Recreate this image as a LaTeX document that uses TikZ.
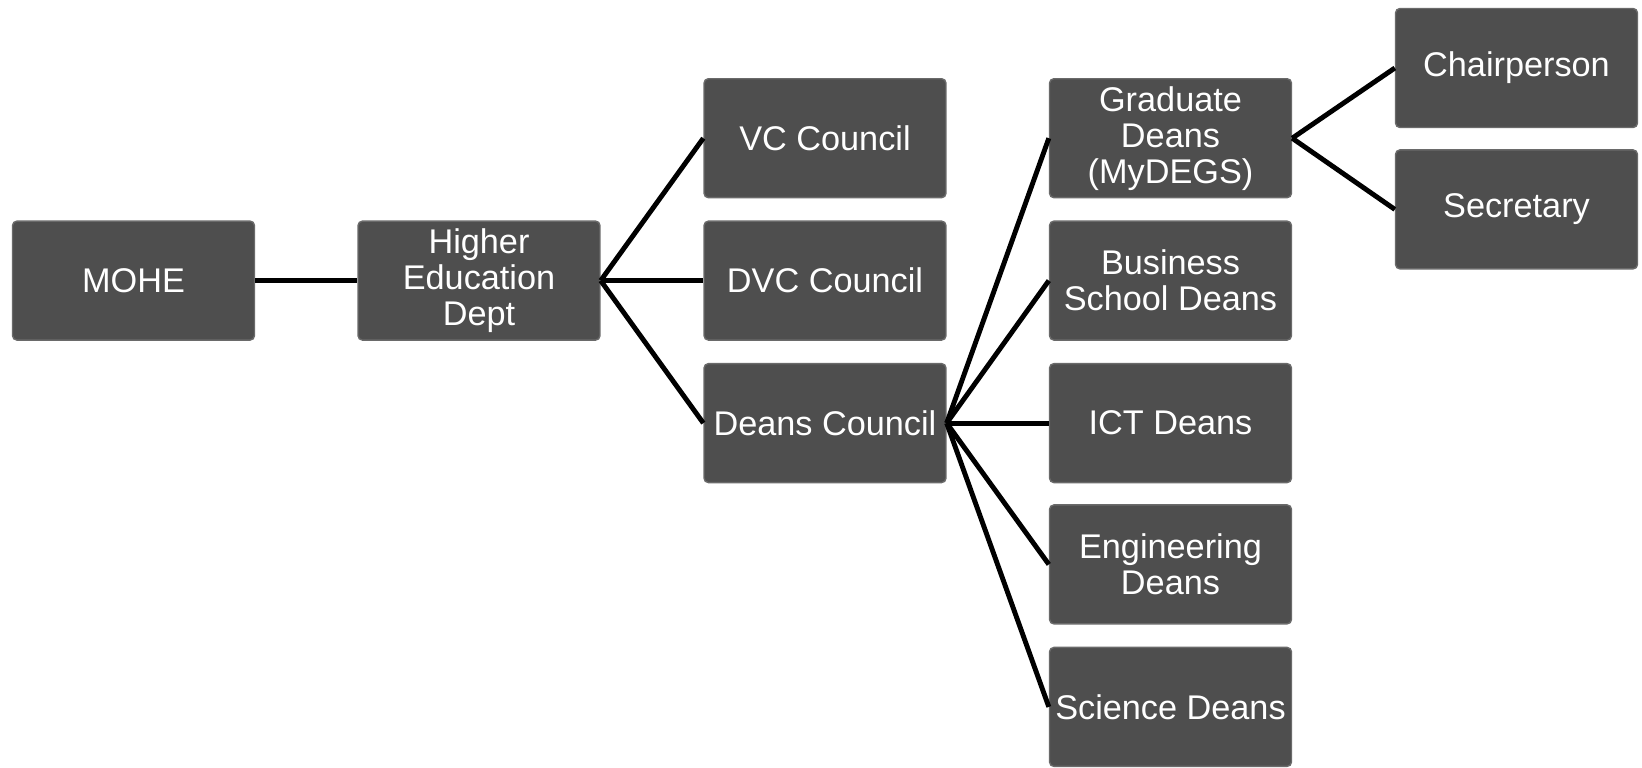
\documentclass[tikz,border=0pt]{standalone}
\usepackage{fontspec}
\setmainfont{Liberation Sans}
\definecolor{boxfill}{HTML}{4E4E4E}
\definecolor{boxedge}{HTML}{6A6A6A}
\begin{document}
\begin{tikzpicture}[x=0.02cm,y=-0.02cm,
  orgbox/.style={draw=boxedge,line width=0.8pt,fill=boxfill,rounded corners=2.5pt,
    minimum width=4.84cm,minimum height=2.38cm,inner sep=0pt,align=center,
    text=white,font=\fontsize{19.5}{20.5}\selectfont},
  link/.style={line width=2.8pt,black}]
\useasboundingbox (0,0) rectangle (1642,767);
\node[orgbox] (mohe) at (133.5,280.6) {MOHE};
\node[orgbox] (hed) at (479,280.6) {Higher\\Education\\Dept};
\node[orgbox] (vc) at (825,138.2) {VC Council};
\node[orgbox] (dvc) at (825,280.6) {DVC Council};
\node[orgbox] (deans) at (825,423.1) {Deans Council};
\node[orgbox] (grad) at (1170.5,138.2) {Graduate\\Deans\\(MyDEGS)};
\node[orgbox] (bus) at (1170.5,280.6) {Business\\School Deans};
\node[orgbox] (ict) at (1170.5,423.1) {ICT Deans};
\node[orgbox] (eng) at (1170.5,564.4) {Engineering\\Deans};
\node[orgbox] (sci) at (1170.5,706.9) {Science Deans};
\node[orgbox] (chair) at (1516.5,68) {Chairperson};
\node[orgbox] (sec) at (1516.5,209.4) {Secretary};
\draw[link] (mohe.east) -- (hed.west);
\foreach \t in {vc,dvc,deans} \draw[link] (hed.east) -- (\t.west);
\foreach \t in {grad,bus,ict,eng,sci} \draw[link] (deans.east) -- (\t.west);
\foreach \t in {chair,sec} \draw[link] (grad.east) -- (\t.west);
\end{tikzpicture}
\end{document}
